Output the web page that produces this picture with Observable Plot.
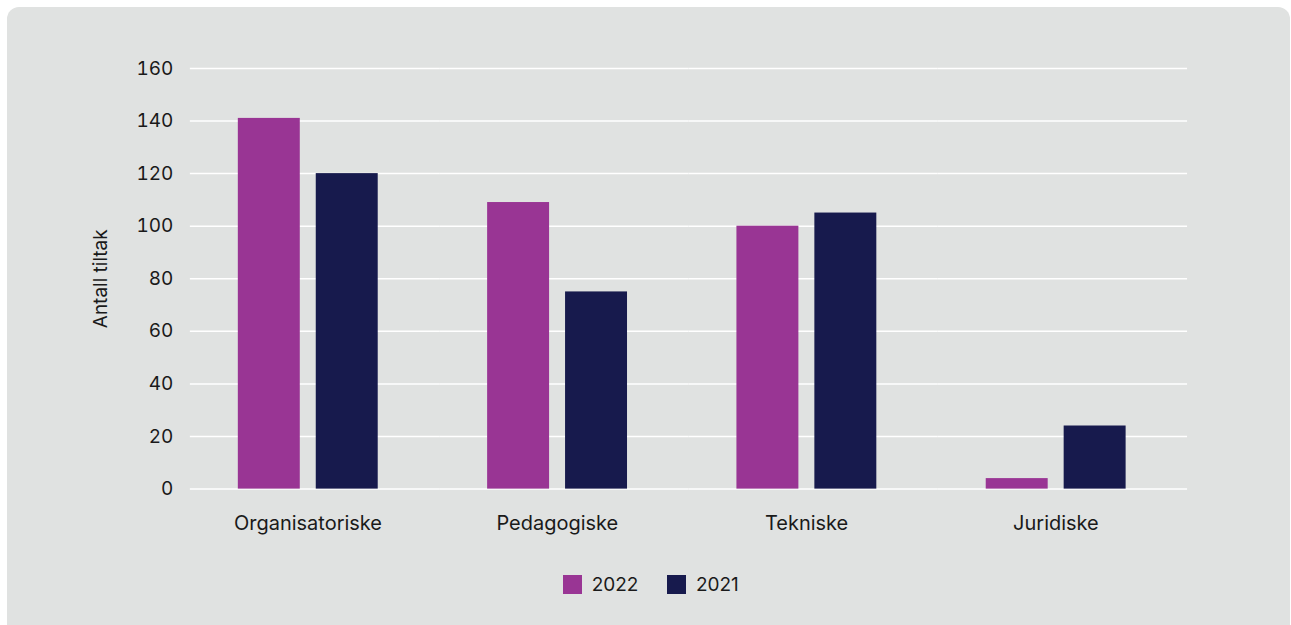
<!DOCTYPE html>
<html>
<head>
<meta charset="utf-8">
<script src="https://cdn.jsdelivr.net/npm/d3@7"></script>
<script src="https://cdn.jsdelivr.net/npm/@observablehq/plot@0.6"></script>
<style>
  html, body { margin: 0; padding: 0; background: #ffffff; }
  #panel {
    position: absolute; left: 7px; top: 7px; width: 1283px; height: 640px;
    background: #e0e2e1; border-radius: 12px; overflow: hidden;
    font-family: Inter, "Noto Sans", sans-serif;
  }
  #chart { position: absolute; left: -7px; top: -7px; }
  #legend { position: absolute; left: 8px; top: 561px; width: 1291px; }
</style>
</head>
<body>
<div id="panel"><div id="chart"></div><div id="legend"></div></div>
<script>
const categories = ["Organisatoriske", "Pedagogiske", "Tekniske", "Juridiske"];
const years = ["2022", "2021"];
const values2022 = [141, 109, 100, 4];
const values2021 = [120, 75, 105, 24];
const yTicks = [0, 20, 40, 60, 80, 100, 120, 140, 160];
const colors = ["#993594", "#171a4d"];

const data = [];
categories.forEach((c, i) => {
  data.push({category: c, year: years[0], value: values2022[i]});
  data.push({category: c, year: years[1], value: values2021[i]});
});

const font = "Inter, 'Noto Sans', sans-serif";

const chart = Plot.plot({
  width: 1291,
  height: 547,
  marginLeft: 190,
  marginRight: 103,
  marginTop: 68,
  marginBottom: 58,
  style: {background: "transparent", fontFamily: font, fontSize: "20px", color: "#1a1a1a"},
  fx: {domain: categories, padding: 0, round: false, label: null, axis: null},
  x: {domain: years, insetLeft: 48, insetRight: 61.5, paddingInner: 0.205, paddingOuter: 0, round: false, axis: null},
  y: {domain: [0, 160], ticks: yTicks},
  color: {domain: years, range: colors},
  marks: [
    Plot.gridY(yTicks, {stroke: "#ffffff", strokeOpacity: 1, strokeWidth: 1.5}),
    Plot.barY(data, {fx: "category", x: "year", y: "value", fill: "year"}),
    Plot.axisY(yTicks, {tickSize: 0, tickPadding: 17, fontSize: 19, label: "Antall tiltak", labelAnchor: "center", labelArrow: "none", labelOffset: 97}),
    Plot.axisFx({anchor: "bottom", tickSize: 0, tickPadding: 27, fontSize: 20, dx: -7, label: null})
  ]
});
document.getElementById("chart").appendChild(chart);

const legend = Plot.legend({
  color: {domain: years, range: colors},
  swatchSize: 19,
  style: {fontFamily: font, fontSize: "19px", color: "#1a1a1a", background: "transparent"}
});
legend.style.justifyContent = "center";
legend.style.display = "flex";
legend.style.gap = "10px";
document.getElementById("legend").appendChild(legend);
</script>
</body>
</html>
